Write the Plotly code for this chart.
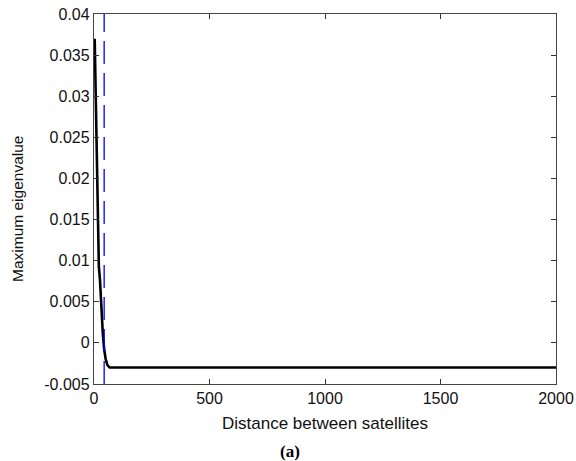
import plotly.graph_objects as go

# Maximum eigenvalue versus inter-satellite distance
distance = [3, 6, 9, 13, 17, 21, 26, 31, 34, 38, 43, 50, 58, 68, 2000]
max_eig = [0.037, 0.0325, 0.0265, 0.020, 0.0148, 0.0093, 0.0076, 0.0046,
           0.0030, 0.0012, -0.0005, -0.0019, -0.0027, -0.003, -0.003]

# Critical distance marker
critical_distance = 44

x_ticks = [0, 500, 1000, 1500, 2000]
y_ticks = [-0.005, 0, 0.005, 0.01, 0.015, 0.02, 0.025, 0.03, 0.035, 0.04]
y_tick_text = ["-0.005", "0", "0.005", "0.01", "0.015", "0.02", "0.025", "0.03", "0.035", "0.04"]

SANS = "Liberation Sans, Arial, sans-serif"
tick_font = dict(family=SANS, size=16, color="#111")

# plot area in pixels
W, H = 576, 461
L, R, T, B = 94, 20, 14, 77
pw, ph = W - L - R, H - T - B

fig = go.Figure()
fig.add_trace(go.Scatter(
    x=distance, y=max_eig, mode="lines",
    line=dict(color="black", width=2.6),
    showlegend=False,
))
fig.add_trace(go.Scatter(
    x=[critical_distance, critical_distance], y=[-0.005, 0.04], mode="lines",
    line=dict(color="#0000ff", width=1.3, dash="23px,9px"),
    showlegend=False,
))

fig.update_layout(
    width=W, height=H,
    margin=dict(l=L, r=R, t=T, b=B),
    paper_bgcolor="white", plot_bgcolor="white",
    font=tick_font,
    xaxis=dict(
        range=[0, 2000], tickvals=x_ticks, ticks="inside", ticklen=5,
        tickcolor="#333", showline=True, mirror="ticks", linecolor="#444",
        linewidth=1.3, showgrid=False, zeroline=False, tickfont=tick_font,
        automargin=False,
    ),
    yaxis=dict(
        range=[-0.005, 0.04], tickvals=y_ticks, ticktext=y_tick_text,
        ticks="inside", ticklen=5, tickcolor="#333",
        showline=True, mirror="ticks", linecolor="#444", linewidth=1.3,
        showgrid=False, zeroline=False, tickfont=tick_font,
        automargin=False,
    ),
    annotations=[
        dict(text="Distance between satellites", xref="paper", yref="paper",
             x=0.5, y=-(423 - (T + ph)) / ph, yanchor="middle",
             showarrow=False, font=dict(family=SANS, size=17, color="#111")),
        dict(text="Maximum eigenvalue", xref="paper", yref="paper",
             x=-(L - 18) / pw, y=0.5 + (T + ph / 2 - 209) / ph, xanchor="center",
             yanchor="middle", textangle=-90,
             showarrow=False, font=dict(family=SANS, size=15.5, color="#111")),
        dict(text="<b>(a)</b>", xref="paper", yref="paper",
             x=0.5 - (325 - 290) / pw, y=-(451 - (T + ph)) / ph, yanchor="middle",
             showarrow=False,
             font=dict(family="Liberation Serif, Times New Roman, serif", size=17, color="black")),
    ],
)

fig.write_html("out.html")
